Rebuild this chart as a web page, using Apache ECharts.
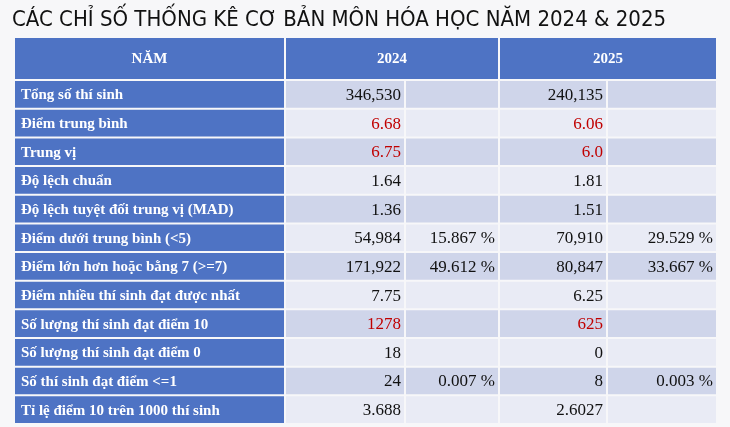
<!DOCTYPE html>
<html><head><meta charset="utf-8">
<script src="https://cdn.jsdelivr.net/npm/echarts@6/dist/echarts.min.js"></script>
<style>html,body{margin:0;padding:0;background:#f7f7f9}#c{width:730px;height:427px}</style>
</head><body><div id="c"></div>
<script>
const title = 'CÁC CHỈ SỐ THỐNG KÊ CƠ BẢN MÔN HÓA HỌC NĂM 2024 & 2025';
const headers = ['NĂM', '2024', '2025'];
const rowLabels = ['Tổng số thí sinh','Điểm trung bình','Trung vị','Độ lệch chuẩn','Độ lệch tuyệt đối trung vị (MAD)','Điểm dưới trung bình (<5)','Điểm lớn hơn hoặc bằng 7 (>=7)','Điểm nhiều thí sinh đạt được nhất','Số lượng thí sinh đạt điểm 10','Số lượng thí sinh đạt điểm 0','Số thí sinh đạt điểm <=1','Tỉ lệ điểm 10 trên 1000 thí sinh'];
const values2024 = ['346,530','6.68','6.75','1.64','1.36','54,984','171,922','7.75','1278','18','24','3.688'];
const pct2024 = ['','','','','','15.867 %','49.612 %','','','','0.007 %',''];
const values2025 = ['240,135','6.06','6.0','1.81','1.51','70,910','80,847','6.25','625','0','8','2.6027'];
const pct2025 = ['','','','','','29.529 %','33.667 %','','','','0.003 %',''];
const highlighted = [false,true,true,false,false,false,false,false,true,false,false,false];

const colEdges = [0, 271, 391, 485, 593, 703];
const headerH = 43, rowH = 28.6;
const cells = [];
cells.push({x0:colEdges[0],x1:colEdges[1],y0:0,y1:headerH,text:headers[0],kind:'head'});
cells.push({x0:colEdges[1],x1:colEdges[3],y0:0,y1:headerH,text:headers[1],kind:'head'});
cells.push({x0:colEdges[3],x1:colEdges[5],y0:0,y1:headerH,text:headers[2],kind:'head'});
rowLabels.forEach((lab,i)=>{
  const y0 = headerH + i*rowH, y1 = y0 + rowH;
  const shade = i%2===0 ? 'a' : 'b';
  cells.push({x0:colEdges[0],x1:colEdges[1],y0,y1,text:lab,kind:'label'});
  cells.push({x0:colEdges[1],x1:colEdges[2],y0,y1,text:values2024[i],kind:shade,red:highlighted[i]});
  cells.push({x0:colEdges[2],x1:colEdges[3],y0,y1,text:pct2024[i],kind:shade});
  cells.push({x0:colEdges[3],x1:colEdges[4],y0,y1,text:values2025[i],kind:shade,red:highlighted[i]});
  cells.push({x0:colEdges[4],x1:colEdges[5],y0,y1,text:pct2025[i],kind:shade});
});
const totalH = headerH + rowLabels.length*rowH;
const fills = {head:'#4e73c4',label:'#4e73c4',a:'#cfd5ea',b:'#e9ebf5'};
const chart = echarts.init(document.getElementById('c'));
chart.setOption({
  backgroundColor:'#f7f7f9',
  title:{text:title,left:7,top:4,textStyle:{fontFamily:'DejaVu Sans Condensed, Liberation Sans',fontWeight:'normal',fontSize:22,color:'#111'}},
  grid:{left:14,right:13,top:37,bottom:3},
  xAxis:{type:'value',min:0,max:colEdges[5],show:false},
  yAxis:{type:'value',min:0,max:totalH,inverse:true,show:false},
  series:[{
    type:'custom',
    data:cells.map((c,i)=>[c.x0,c.y0,c.x1,c.y1,i]),
    renderItem:function(params,api){
      const c = cells[api.value(4)];
      const p0 = api.coord([api.value(0),api.value(1)]);
      const p1 = api.coord([api.value(2),api.value(3)]);
      const x=p0[0]+1,y=p0[1]+1,w=p1[0]-p0[0]-2,h=p1[1]-p0[1]-2;
      const isHead=c.kind==='head', isLab=c.kind==='label';
      let tx, align;
      if(isHead){tx=x+w/2;align='center';}
      else if(isLab){tx=x+6;align='left';}
      else {tx=x+w-3;align='right';}
      return {type:'group',children:[
        {type:'rect',shape:{x,y,width:w,height:h},style:{fill:fills[c.kind]}},
        {type:'text',style:{x:tx,y:y+h/2+1,text:c.text,align,verticalAlign:'middle',
          fontFamily:'Liberation Serif, Times New Roman, serif',
          fontWeight:(isHead||isLab)?'bold':'normal',
          fontSize:isHead?15:(isLab?15:17),
          fill:(isHead||isLab)?'#ffffff':(c.red?'#c00000':'#111111')}}
      ]};
    }
  }]
});
</script></body></html>
